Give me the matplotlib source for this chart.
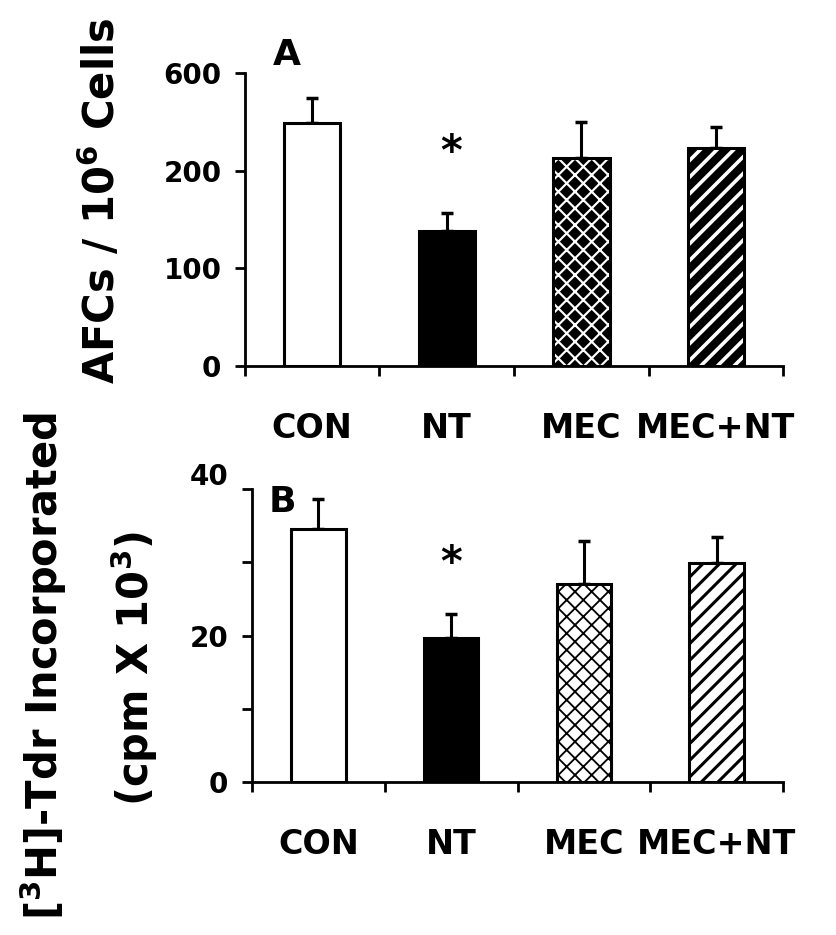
import matplotlib
matplotlib.use("Agg")
import matplotlib.pyplot as plt
import matplotlib.transforms as mtransforms
import numpy as np

plt.rcParams['font.family'] = ['DejaVu Sans']
plt.rcParams['font.weight'] = 'bold'
plt.rcParams['mathtext.default'] = 'bf'

#Data
groups = ["CON", "NT", "MEC", "MEC+NT"]
afc_vals = [249, 138, 213, 223]        # panel A, on the drawn scale
afc_err = [25, 19, 37, 22]
afc_ticks = [0, 100, 200, 300]
afc_ticklabels = ["0", "100", "200", "600"]
tdr_vals = [34.6, 19.6, 27.1, 29.9]    # panel B
tdr_err = [4.0, 3.4, 5.8, 3.5]
tdr_ticks = [0, 10, 20, 30, 40]
tdr_ticklabels = ["0", "", "20", "", "40"]

#Bar styles: (facecolor, hatch colour, hatch)
styles_A = [("white", None, None), ("black", None, None),
            ("black", "white", "xx"), ("black", "white", "//")]
styles_B = [("white", None, None), ("black", None, None),
            ("white", "black", "xx"), ("white", "black", "//")]

fig = plt.figure(figsize=(8.37, 9.35), dpi=100)
axA = fig.add_axes([0.2927, 0.6086, 0.6428, 0.3133])
axB = fig.add_axes([0.3011, 0.1636, 0.6344, 0.3134])

x = np.arange(len(groups))


def draw_panel(ax, vals, err, styles, width, hlw):
    plt.rcParams['hatch.linewidth'] = hlw
    for i, (fc, hc, hatch) in enumerate(styles):
        if hatch:
            lw = hlw * 0.6 if "x" in hatch else hlw
            plt.rcParams['hatch.linewidth'] = lw
            ax.bar(x[i], vals[i], width, color=fc, edgecolor=hc, hatch=hatch, linewidth=0, zorder=2)
        else:
            ax.bar(x[i], vals[i], width, color=fc, linewidth=0, zorder=2)
        ax.bar(x[i], vals[i], width, fill=False, edgecolor="black", linewidth=2.2, zorder=3)
    ax.errorbar(x, vals, yerr=[np.zeros(len(vals)), err], fmt="none", ecolor="black",
                elinewidth=2.2, capsize=4, capthick=2.5, zorder=1)
    ax.set_xlim(-0.5, 3.5)
    for s in ["top", "right"]:
        ax.spines[s].set_visible(False)
    for s in ["left", "bottom"]:
        ax.spines[s].set_linewidth(2)
    ax.set_xticks(np.arange(-0.5, 4, 1))
    ax.set_xticklabels([])
    ax.tick_params(axis="x", which="major", direction="out", length=7, width=2)
    ax.set_xticks(x, minor=True)
    ax.set_xticklabels(groups, minor=True, fontsize=24, fontweight="bold")
    ax.tick_params(axis="x", which="minor", length=0, pad=33)
    ax.tick_params(axis="y", direction="out", length=7, width=2, labelsize=20, pad=10)


#Panel A
draw_panel(axA, afc_vals, afc_err, styles_A, 0.42, 2.6)
axA.set_ylim(0, 300)
axA.set_yticks(afc_ticks)
axA.set_yticklabels(afc_ticklabels, fontweight="bold")
axA.text(1.03, 218, "*", fontsize=30, ha="center", va="center")
axA.text(-0.19, 318, "A", fontsize=26, ha="center", va="center", clip_on=False)
fig.text(101 / 837, 1 - 201 / 935, r"AFCs / 10$^{6}$ Cells", rotation=90,
         fontsize=30, fontweight="bold", ha="center", va="center")

#Panel B
draw_panel(axB, tdr_vals, tdr_err, styles_B, 0.41, 2.2)
axB.set_ylim(0, 40)
axB.set_yticks(tdr_ticks)
axB.set_yticklabels(tdr_ticklabels, fontweight="bold")
# the "40" label sits a bit above its tick in the original
lab40 = axB.get_yticklabels()[4]
lab40.set_transform(lab40.get_transform() + mtransforms.ScaledTranslation(0, 0.15, fig.dpi_scale_trans))
axB.text(1.0, 29.8, "*", fontsize=30, ha="center", va="center")
axB.text(-0.27, 38.2, "B", fontsize=26, ha="center", va="center", clip_on=False)
fig.text(43 / 837, 1 - 666 / 935, r"[$^{3}$H]-Tdr Incorporated", rotation=90,
         fontsize=30, fontweight="bold", ha="center", va="center")
fig.text(134 / 837, 1 - 668 / 935, r"(cpm X 10$^{3}$)", rotation=90,
         fontsize=30, fontweight="bold", ha="center", va="center")

fig.savefig("out.png", dpi=100)
